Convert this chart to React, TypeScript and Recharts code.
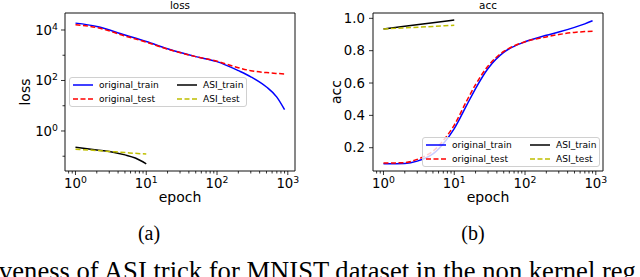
import React from 'react';
import { LineChart, Line, XAxis, YAxis, ReferenceArea, Legend } from 'recharts';

// epochs (log x axis)
const lossEpochs = [1, 2, 5, 10, 20, 50, 100, 200, 300, 500, 700, 900];
const lossOrigTrain = [18700, 13800, 6300, 3500, 1800, 880, 560, 245, 140, 55, 22, 7];
const lossOrigTest = [16000, 12500, 5800, 3300, 1750, 880, 580, 320, 245, 205, 190, 181];
const asiEpochs = [1, 2, 3, 5, 7, 10];
const lossAsiTrain = [0.225, 0.176, 0.155, 0.113, 0.085, 0.05];
const lossAsiTest = [0.19, 0.168, 0.155, 0.14, 0.13, 0.123];

const accEpochs = [1, 2, 3, 4, 5, 7, 10, 15, 20, 30, 50, 70, 100, 200, 300, 500, 700, 900];
const accOrigTrain = [0.101, 0.103, 0.117, 0.138, 0.162, 0.225, 0.318, 0.463, 0.566, 0.69, 0.79, 0.827, 0.855, 0.895, 0.915, 0.944, 0.966, 0.985];
const accOrigTest = [0.105, 0.108, 0.128, 0.152, 0.178, 0.245, 0.34, 0.49, 0.59, 0.705, 0.795, 0.83, 0.855, 0.885, 0.9, 0.913, 0.918, 0.92];
const accAsiEpochs = [1, 2, 5, 10];
const accAsiTrain = [0.934, 0.951, 0.973, 0.99];
const accAsiTest = [0.934, 0.941, 0.95, 0.957];

const xTicks = [0.8, 0.9, 1, 2, 3, 4, 5, 6, 7, 8, 9, 10, 20, 30, 40, 50, 60, 70, 80, 90, 100, 200, 300, 400, 500, 600, 700, 800, 900, 1000];
const lossTicks = [0.1, 1, 10, 100, 1000, 10000];
const accTicks = [0.2, 0.4, 0.6, 0.8, 1.0];

const X_DOMAIN = [0.711, 1264];
const LOSS_DOMAIN = [0.026, 47100];
const ACC_DOMAIN = [0.056, 1.033];

const SERIES = [
  { name: 'original_train', color: '#0000ff', dash: undefined },
  { name: 'original_test', color: '#ff0000', dash: '5 2.5' },
  { name: 'ASI_train', color: '#000000', dash: undefined },
  { name: 'ASI_test', color: '#bfbf00', dash: '5 2.5' },
];

const FONT = 'DejaVu Sans';

const toPts = (xs: number[], ys: number[]) => xs.map((x, i) => ({ x, y: ys[i] }));

const LogXTick = (props: any) => {
  const { x, y, payload } = props;
  const e = Math.log10(payload.value);
  const major = Math.abs(e - Math.round(e)) < 1e-6;
  return (
    <g>
      <line x1={x} x2={x} y1={y} y2={y + (major ? 4 : 2.5)} stroke="#000" strokeWidth={0.8} />
      {major && (
        <text x={x} y={y + 17} textAnchor="middle" fontSize={13.3} fontFamily={FONT} fill="#000">
          10<tspan dy={-5} fontSize={9.3}>{Math.round(e)}</tspan>
        </text>
      )}
    </g>
  );
};

const LogYTick = (props: any) => {
  const { x, y, payload } = props;
  const e = Math.round(Math.log10(payload.value));
  const major = e % 2 === 0;
  return (
    <g>
      <line x1={x - (major ? 4 : 2.5)} x2={x} y1={y} y2={y} stroke="#000" strokeWidth={0.8} />
      {major && (
        <text x={x - 7} y={y + 5} textAnchor="end" fontSize={13.3} fontFamily={FONT} fill="#000">
          10<tspan dy={-5} fontSize={9.3}>{e}</tspan>
        </text>
      )}
    </g>
  );
};

const AccYTick = (props: any) => {
  const { x, y, payload } = props;
  return (
    <g>
      <line x1={x - 4} x2={x} y1={y} y2={y} stroke="#000" strokeWidth={0.8} />
      <text x={x - 8} y={y + 4.7} textAnchor="end" fontSize={13.3} fontFamily={FONT} fill="#000">
        {payload.value.toFixed(1)}
      </text>
    </g>
  );
};

const LegendBox = () => (
  <div
    style={{
      position: 'relative', width: 178, height: 30, boxSizing: 'border-box',
      border: '1px solid #d0d0d0', borderRadius: 3, background: 'rgba(255,255,255,0.8)',
      fontFamily: FONT, fontSize: 9.1, color: '#000',
    }}
  >
    {SERIES.map((s, i) => (
      <div
        key={s.name}
        style={{
          position: 'absolute', left: 3 + (i < 2 ? 0 : 104), top: 1 + (i % 2) * 14,
          height: 12, display: 'flex', alignItems: 'center', whiteSpace: 'nowrap',
        }}
      >
        <svg width={20} height={12}>
          <line x1={0} x2={20} y1={6} y2={6} stroke={s.color} strokeWidth={1.5} strokeDasharray={s.dash} />
        </svg>
        <span style={{ marginLeft: 6, lineHeight: '12px' }}>{s.name}</span>
      </div>
    ))}
  </div>
);

const axisLabel = { fontSize: 14, fontFamily: FONT, fill: '#000' };

function Panel(props: {
  left: number; yWidth: number; right: number; yLabel: string; yLabelOffset: number;
  series: { x: number; y: number }[][]; yProps: any; legendPos: { left: number; top: number };
}) {
  const { left, yWidth, right, yLabel, yLabelOffset, series, yProps, legendPos } = props;
  const yDomain = yProps.domain;
  return (
    <div style={{ position: 'absolute', left, top: 0, width: 320, height: 240 }}>
      <LineChart width={320} height={240} margin={{ top: 13, right, bottom: 0, left: 0 }}>
        <XAxis
          dataKey="x" type="number" scale="log" domain={X_DOMAIN} allowDataOverflow
          ticks={xTicks} interval={0} tick={<LogXTick />} tickSize={0} tickMargin={0}
          tickLine={false} axisLine={false} height={69}
          label={{ value: 'epoch', position: 'insideTop', offset: 21, style: axisLabel }}
        />
        <YAxis
          type="number" allowDataOverflow interval={0} tickSize={0} tickMargin={0}
          tickLine={false} axisLine={false} width={yWidth}
          label={{ value: yLabel, angle: -90, position: 'insideLeft', offset: yLabelOffset, style: { ...axisLabel, textAnchor: 'middle' } }}
          {...yProps}
        />
        <ReferenceArea
          x1={X_DOMAIN[0]} x2={X_DOMAIN[1]} y1={yDomain[0]} y2={yDomain[1]}
          fill="none" stroke="#111" strokeWidth={1} ifOverflow="visible"
        />
        {series.map((d, i) => (
          <Line
            key={SERIES[i].name} data={d} dataKey="y" type="monotone" name={SERIES[i].name}
            stroke={SERIES[i].color} strokeWidth={1.5} strokeDasharray={SERIES[i].dash}
            dot={false} activeDot={false} isAnimationActive={false}
          />
        ))}
        <Legend
          content={<LegendBox />} layout="horizontal" verticalAlign="middle" align="center"
          width={178} height={30}
          wrapperStyle={{ left: legendPos.left, top: legendPos.top, width: 178, height: 30 }}
        />
      </LineChart>
    </div>
  );
}

export default function App() {
  const lossSeries = [
    toPts(lossEpochs, lossOrigTrain),
    toPts(lossEpochs, lossOrigTest),
    toPts(asiEpochs, lossAsiTrain),
    toPts(asiEpochs, lossAsiTest),
  ];
  const accSeries = [
    toPts(accEpochs, accOrigTrain),
    toPts(accEpochs, accOrigTest),
    toPts(accAsiEpochs, accAsiTrain),
    toPts(accAsiEpochs, accAsiTest),
  ];
  return (
    <div style={{ position: 'absolute', left: 0, top: 0, width: 640, height: 277, background: '#fff', overflow: 'hidden' }}>
      <Panel
        left={0} yWidth={65} right={25} yLabel="loss" yLabelOffset={25}
        series={lossSeries}
        yProps={{ scale: 'log', domain: LOSS_DOMAIN, ticks: lossTicks, tick: <LogYTick /> }}
        legendPos={{ left: 69, top: 77 }}
      />
      <Panel
        left={320} yWidth={53} right={37} yLabel="acc" yLabelOffset={16}
        series={accSeries}
        yProps={{ scale: 'linear', domain: ACC_DOMAIN, ticks: accTicks, tick: <AccYTick /> }}
        legendPos={{ left: 102, top: 137 }}
      />
      <svg width={640} height={277} style={{ position: 'absolute', left: 0, top: 0, pointerEvents: 'none' }}>
        <text x={180} y={9} textAnchor="middle" fontSize={10.4} fontFamily={FONT} fill="#000">loss</text>
        <text x={488} y={9} textAnchor="middle" fontSize={10.4} fontFamily={FONT} fill="#000">acc</text>
        <text x={149} y={239.5} textAnchor="middle" fontSize={20} fontFamily="Liberation Serif" fill="#000">(a)</text>
        <text x={473} y={239.5} textAnchor="middle" fontSize={20} fontFamily="Liberation Serif" fill="#000">(b)</text>
        <text x={-1} y={279.6} fontSize={26.6} fontFamily="Liberation Serif" fill="#000">
          veness of ASI trick for MNIST dataset in the non kernel reg
        </text>
      </svg>
    </div>
  );
}
